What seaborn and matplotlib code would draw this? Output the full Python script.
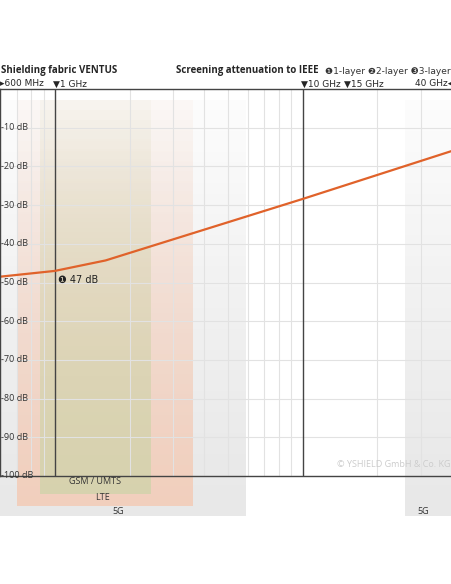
import matplotlib
matplotlib.use("Agg")
import matplotlib.pyplot as plt
import seaborn as sns
import numpy as np
import pandas as pd

sns.set_style("white")
plt.rcParams['font.family'] = ['Open Sans', 'DejaVu Sans']

freq_ghz = [0.6, 1.0, 1.6, 10.0, 40.0]
atten_db = [-48.5, -47.0, -44.3, -28.4, -16.0]
yticks = [-10, -20, -30, -40, -50, -60, -70, -80, -90, -100]
ytick_labels = [f"{v} dB" for v in yticks]
top_markers = [(0.98, "▼1 GHz"), (9.8, "▼10 GHz"), (14.6, "▼15 GHz")]
bands = [  # name, f_lo, f_hi, color, bottom px
    ("5G", 0.6, 5.9, "#e4e4e4", 516),
    ("5G", 25.8, 40.0, "#e4e4e4", 516),
    ("LTE", 0.70, 3.6, "#f3cbb6", 506),
    ("GSM / UMTS", 0.87, 2.45, "#d2d3ac", 494),
]

W, H = 452, 584
fig = plt.figure(figsize=(W/100, H/100), dpi=100)
top_px, bot_px = 89, 476

bg = fig.add_axes([0, 1-520/H, 1, (520-top_px)/H])
bg.set_xscale("log"); bg.set_xlim(0.6, 40); bg.set_ylim(520, top_px)
bg.axis("off")
for name, lo, hi, col, bp in bands:
    n = 40
    ys = np.linspace(bp, 100, n+1)
    for i in range(n):
        a = 1.0 - 0.92*(i/n)**1.2
        bg.fill_between([lo, hi], ys[i], ys[i+1], color=col, alpha=a*0.85, lw=0)

ax = fig.add_axes([0, 1-bot_px/H, 1, (bot_px-top_px)/H])
ax.patch.set_alpha(0)
df = pd.DataFrame({"f": freq_ghz, "a": atten_db})
sns.lineplot(data=df, x="f", y="a", ax=ax, color="#e0622a", lw=1.6)
ax.set_xscale("log")
ax.set_xlim(0.6, 40); ax.set_ylim(-100, 0)
ax.set_xlabel(""); ax.set_ylabel("")
ax.set_xticks([]); ax.set_xticks([], minor=True); ax.set_yticks([])
for v in yticks:
    ax.axhline(v, color="#e2e2e2", lw=0.8, zorder=0)
for f in [0.7, 0.8, 0.9, 2, 3, 4, 5, 6, 7, 8, 9, 20, 30]:
    ax.axvline(f, color="#e2e2e2", lw=0.8, zorder=0)
for f in [1, 10]:
    ax.axvline(f, color="#444444", lw=1, zorder=1)
for s in ax.spines.values():
    s.set_color("#444444"); s.set_linewidth(1)
for v, lab in zip(yticks, ytick_labels):
    ax.text(0.605, v, lab, ha="left", va="center", fontsize=6.5, color="#333333")
ax.text(1.03, -49.3, "❶ 47 dB", ha="left", va="center", fontsize=7, color="#222222",
        family=['DejaVu Sans'])
ax.text(39.5, -97, "© YSHIELD GmbH & Co. KG", ha="right", va="center", fontsize=6.5, color="#cccccc")

fig.text(0.002, 1-71/H, "Shielding fabric VENTUS", fontsize=7, weight="bold", ha="left", va="center")
fig.text(0.998, 1-71/H, "❶1-layer ❷2-layer ❸3-layer",
         fontsize=6.5, ha="right", va="center", family=['DejaVu Sans'], color="#333333")
fig.text(0.705, 1-71/H, "Screening attenuation to IEEE", fontsize=7, weight="bold",
         ha="right", va="center")
ypx = 1-84/H
ax.text(0.6, ypx, "▸600 MHz", transform=ax.get_xaxis_transform() if False else None) if False else None
fig.text(0.0, ypx, "▸600 MHz", ha="left", va="center", fontsize=6.5, family=['DejaVu Sans'])
xt = ax.get_xaxis_transform()
for f, lab in top_markers:
    fx = (np.log10(f/0.6)/np.log10(40/0.6))
    fig.text(fx, ypx, lab, ha="left", va="center", fontsize=6.5, family=['DejaVu Sans'])
fig.text(1.0, ypx, "40 GHz◂", ha="right", va="center", fontsize=6.5, family=['DejaVu Sans'])

bg.text(1.45, 482, "GSM / UMTS", ha="center", va="center", fontsize=6.5, color="#333333")
bg.text(1.55, 498, "LTE", ha="center", va="center", fontsize=6.5, color="#333333")
bg.text(1.8, 512, "5G", ha="center", va="center", fontsize=6.5, color="#333333")
bg.text(30.5, 512, "5G", ha="center", va="center", fontsize=6.5, color="#333333")

fig.savefig("out.png", dpi=100)
